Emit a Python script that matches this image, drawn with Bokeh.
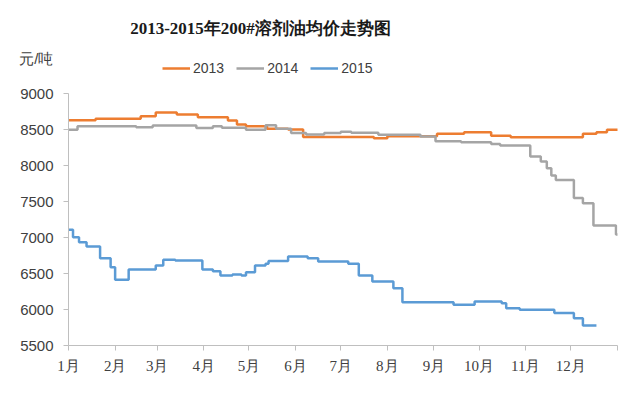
from bokeh.plotting import figure
from bokeh.models import (ColumnDataSource, FixedTicker, Legend, LegendItem, Label, Range1d, LinearAxis)
from bokeh.embed import file_html
from bokeh.resources import INLINE

# ---- data: step levels (day of year where a price level starts, price in 元/吨) ----
days_2013 = [0, 18, 48, 58, 72, 86, 106, 112, 118, 132, 146, 156, 203, 212, 245, 263, 281, 294, 342, 351, 358, 366]
price_2013 = [8630, 8650, 8685, 8735, 8710, 8670, 8625, 8570, 8545, 8510, 8500, 8395, 8380, 8405, 8440, 8462, 8412, 8393, 8440, 8462, 8495, 8495]

days_2014 = [0, 6, 45, 56, 85, 96, 102, 118, 131, 138, 148, 158, 170, 181, 188, 206, 234, 244, 261, 281, 287,
             307, 314, 318, 321, 324, 336, 342, 349, 364, 366]
price_2014 = [8495, 8546, 8532, 8555, 8520, 8546, 8523, 8495, 8560, 8510, 8450, 8430, 8450, 8470, 8454, 8426, 8403,
              8338, 8324, 8300, 8278, 8125, 8055, 7963, 7860, 7800, 7550, 7476, 7167, 7042, 7042]

days_2015 = [0, 3, 7, 12, 21, 28, 31, 40, 58, 63, 71, 89, 96, 101, 109, 115, 118, 124, 131, 133, 146, 159, 166,
             186, 193, 202, 216, 222, 256, 270, 288, 291, 300, 323, 336, 342, 351]
price_2015 = [7107, 7004, 6935, 6875, 6713, 6588, 6412, 6555, 6611, 6690, 6680, 6555, 6530, 6472, 6486, 6472,
              6518, 6611, 6635, 6672, 6736, 6713, 6667, 6635, 6472, 6390, 6296, 6100, 6065, 6111, 6088, 6018,
              5995, 5953, 5880, 5778, 5778]

month_starts = [0, 31, 59, 90, 120, 151, 181, 212, 243, 273, 304, 334, 365]
month_labels = ["1月", "2月", "3月", "4月", "5月", "6月", "7月", "8月", "9月", "10月", "11月", "12月", ""]
y_ticks = [5500, 6000, 6500, 7000, 7500, 8000, 8500, 9000]

series_names = ["2013", "2014", "2015"]
colors = ["#ED7D31", "#A5A5A5", "#5B9BD5"]

title_text = "2013-2015年200#溶剂油均价走势图"
unit_text = "元/吨"

# ---- layout: frame spans to the top of the figure so title/legend sit inside it ----
W, H = 640, 394
frame_left, frame_right, frame_bottom = 68, 617, 345
y_min, y_max = y_ticks[0], y_ticks[-1]
axis_top_px = 93                              # pixel row of the top tick (9000)
per_px = (y_max - y_min) / (frame_bottom - axis_top_px)
y_top = y_min + per_px * frame_bottom         # value at figure top row
x_per_px = (month_starts[-1] - month_starts[0]) / (frame_right - frame_left)

def yval(py):
    return y_max + (axis_top_px - py) * per_px

def xval(px):
    return month_starts[0] + (px - frame_left) * x_per_px

p = figure(width=W, height=H, output_backend="svg", toolbar_location=None,
           x_range=Range1d(month_starts[0], month_starts[-1]), y_range=Range1d(y_min, y_top),
           min_border_left=frame_left, min_border_right=W - frame_right, min_border_top=0,
           min_border_bottom=H - frame_bottom)
p.outline_line_color = None
p.grid.visible = False
p.background_fill_color = "white"
p.border_fill_color = "white"

renderers = []
for d, v, c in zip([days_2013, days_2014, days_2015], [price_2013, price_2014, price_2015], colors):
    src = ColumnDataSource(dict(day=d, price=v))
    r = p.step(x="day", y="price", source=src, mode="after", line_color=c, line_width=2.5)
    renderers.append(r)

legend = Legend(items=[LegendItem(label=n, renderers=[r]) for n, r in zip(series_names, renderers)],
                orientation="horizontal", location=(162 - frame_left, frame_bottom - 78),
                glyph_width=28, glyph_height=20, label_standoff=3, spacing=12,
                padding=0, margin=0, border_line_alpha=0, background_fill_alpha=0,
                label_text_font="Liberation Sans", label_text_font_size="14px",
                label_text_color="#404040")
p.add_layout(legend, "center")

p.add_layout(Label(x=xval(260), y=yval(28), text=title_text, text_align="center", text_baseline="middle",
                   text_font="Liberation Serif", text_font_size="17px", text_font_style="bold",
                   text_color="#1a1a1a"))

# inner y axis: rule + tick marks only, bounded to the value range
p.yaxis.ticker = FixedTicker(ticks=y_ticks)
p.yaxis.bounds = (y_min, y_max)
p.yaxis.major_label_overrides = {t: "" for t in y_ticks}
p.yaxis.major_label_text_font_size = "0px"
p.yaxis.major_label_standoff = 0
p.yaxis.axis_line_color = "#BFBFBF"
p.yaxis.major_tick_line_color = "#BFBFBF"
p.yaxis.major_tick_out = 5
p.yaxis.major_tick_in = 0
p.yaxis.minor_tick_line_color = None

# outer y axis: tick labels and the unit text
unit_y = yval(58)
label_axis = LinearAxis(ticker=FixedTicker(ticks=y_ticks + [unit_y]),
                        major_label_overrides={unit_y: unit_text},
                        axis_line_color=None, major_tick_line_color=None, minor_tick_line_color=None,
                        major_tick_out=0, major_tick_in=0, major_label_standoff=10,
                        major_label_text_font="Liberation Sans", major_label_text_font_size="15px",
                        major_label_text_color="#404040")
p.add_layout(label_axis, "left")

p.xaxis.ticker = FixedTicker(ticks=month_starts)
p.xaxis.major_label_overrides = {m: lab for m, lab in zip(month_starts, month_labels)}
p.xaxis.major_label_text_font = "Liberation Serif"
p.xaxis.major_label_text_font_size = "15px"
p.xaxis.major_label_text_color = "#404040"
p.xaxis.axis_line_color = "#BFBFBF"
p.xaxis.major_tick_line_color = "#BFBFBF"
p.xaxis.major_tick_out = 5
p.xaxis.major_tick_in = 0
p.xaxis.minor_tick_line_color = None
p.xaxis.major_label_standoff = 7

open("out.html", "w").write(file_html(p, INLINE))
